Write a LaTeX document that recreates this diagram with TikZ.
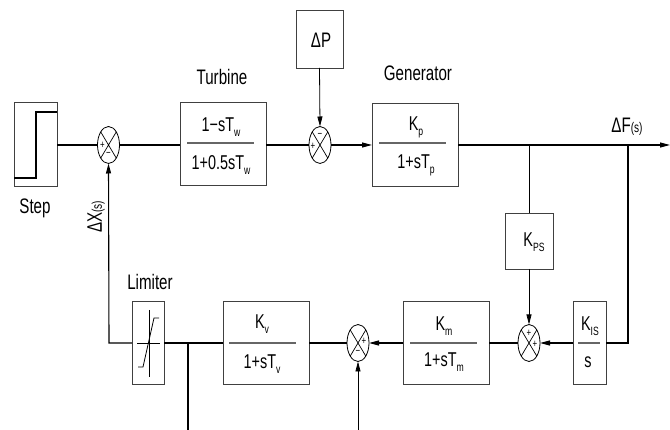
\documentclass[tikz,border=0pt]{standalone}
\usepackage{fontspec}
\setmainfont[FakeStretch=0.72]{Liberation Sans}
\usetikzlibrary{arrows.meta,shapes.geometric,calc}
\newcommand\sbs[1]{\raisebox{-0.45ex}{\fontsize{12}{12}\selectfont #1}}
\newcommand\pars[1]{{\fontsize{14}{14}\selectfont #1}}
\begin{document}
\begin{tikzpicture}[x=1pt,y=-1pt,
  blk/.style={draw=black!75, line width=0.9pt, rectangle, inner sep=0pt, outer sep=0pt},
  ln/.style={line width=1.1pt},
  arr/.style={line width=1.1pt,-{Triangle[length=10pt,width=5pt]}},
  sumj/.style={ellipse, draw, line width=0.8pt, minimum width=22pt, minimum height=37pt, inner sep=0pt, outer sep=0pt},
  lbl/.style={font=\fontsize{21}{23}\selectfont, inner sep=0pt},
  fr/.style={font=\fontsize{20}{22}\selectfont, inner sep=0pt},
  sg/.style={font=\fontsize{11}{11}\selectfont, inner sep=0pt},
  fline/.style={draw=black!60, line width=1.6pt}
]
\useasboundingbox (0,0) rectangle (670,430);

% ---- blocks ----
\node[blk, minimum width=43pt, minimum height=84pt] (step) at (35.5,144) {};
\draw[ln] (14,178) -- (36,178) -- (36,112) -- (57,112);
\node[lbl] (steplbl) at (35,208) {Step};

\node[sumj] (s1) at (108.5,145) {};
\node[blk, minimum width=86pt, minimum height=83pt] (turb) at (223,143.5) {};
\node[lbl] (turblbl) at (222,77) {Turbine};
\node[fr] (turbnum) at (221,127) {1−sT\sbs{w}};
\node[fr] (turbden) at (221,165) {1+0.5sT\sbs{w}};
\draw[fline] (187,143) -- (254,143);

\node[sumj] (s2) at (320,145) {};
\node[blk, minimum width=47pt, minimum height=58pt] (dp) at (319.5,39) {};
\node[lbl] (dptxt) at (321,40) {ΔP};

\node[blk, minimum width=86pt, minimum height=83pt] (gen) at (415,144.5) {};
\node[lbl] (genlbl) at (418,73) {Generator};
\node[fr] (gennum) at (416,127) {K\sbs{p}};
\node[fr] (genden) at (416,165) {1+sT\sbs{p}};
\draw[fline] (379,143) -- (446,143);

\node[lbl] (dflbl) at (627,127) {ΔF\pars{(s)}};

\node[blk, minimum width=48pt, minimum height=56pt] (kps) at (529,241) {};
\node[fr] (kpstxt) at (534,242) {K\sbs{PS}};

\node[sumj] (s3) at (529,343) {};
\node[blk, minimum width=33pt, minimum height=83pt] (kis) at (589.5,342.5) {};
\node[fr] (kisnum) at (590,326) {K\sbs{IS}};
\node[fr] (kisden) at (588,362) {s};
\draw[fline] (578,343) -- (600,343);

\node[blk, minimum width=86pt, minimum height=83pt] (km) at (446,342.5) {};
\node[fr] (kmnum) at (444,326) {K\sbs{m}};
\node[fr] (kmden) at (444,362) {1+sT\sbs{m}};
\draw[fline] (410,343) -- (477,343);

\node[sumj] (s4) at (358,343) {};

\node[blk, minimum width=86pt, minimum height=83pt] (kv) at (266,342.5) {};
\node[fr] (kvnum) at (262,324) {K\sbs{v}};
\node[fr] (kvden) at (262,364) {1+sT\sbs{v}};
\draw[fline] (229,343) -- (296,343);

\node[blk, minimum width=32pt, minimum height=83pt] (lim) at (148,342.5) {};
\node[lbl] (limlbl) at (150,282) {Limiter};
\draw[line width=0.8pt] (149,310) -- (149,377);
\draw[line width=0.8pt] (137,343) -- (160,343);
\draw[line width=0.8pt] (138,367) -- (143,367) -- (154,318) -- (159,318);

\node[lbl, rotate=90] (dxlbl) at (96,217) {ΔX\pars{(s)}};

% ---- summing junction crosses and signs ----
\foreach \s in {s1,s2,s3,s4}{
  \draw[line width=0.7pt] (\s.north west) -- (\s.south east) (\s.north east) -- (\s.south west);
}
\node[sg] (s1a) at ($(s1)+(-6,0)$) {+};
\node[sg] (s1b) at ($(s1)+(0,9)$) {−};
\node[sg] (s2a) at ($(s2)+(-7,1)$) {+};
\node[sg] (s2b) at ($(s2)+(0,-10)$) {−};
\node[sg] (s3a) at ($(s3)+(0,-10)$) {+};
\node[sg] (s3b) at ($(s3)+(6,1)$) {+};
\node[sg] (s4a) at ($(s4)+(6,-2)$) {+};
\node[sg] (s4b) at ($(s4)+(0,9)$) {−};

% ---- coordinates ----
\coordinate (b1) at (529,145);
\coordinate (b2) at (628,145);
\coordinate (c2) at (628,343);
\coordinate (out) at (670,145);
\coordinate (c1) at (109,343);
\coordinate (b3) at (188,343);
\coordinate (bot1) at (188,430);
\coordinate (bot2) at (358,430);

% ---- connectors ----
\draw[ln] (step.east |- s1) -- (s1.west);
\draw[ln] (s1.east) -- (turb.west |- s1);
\draw[ln] (turb.east |- s2) -- (s2.west);
\draw[arr,line width=0.8pt] (dp.south) -- (s2.north);
\draw[arr] (s2.east) -- (gen.west |- s2);
\draw[arr] (gen.east |- out) -- (out);
\draw[line width=0.8pt] (b1) -- (kps.north);
\draw[arr,line width=0.8pt] (kps.south) -- (s3.north);
\draw[ln] (b2) -- (c2) -- (kis.east |- c2);
\draw[arr] (kis.west |- s3) -- (s3.east);
\draw[ln] (s3.west) -- (km.east |- s3);
\draw[arr] (km.west |- s4) -- (s4.east);
\draw[arr,line width=0.8pt] (bot2) -- (s4.south);
\draw[ln] (s4.west) -- (kv.east |- s4);
\draw[ln] (kv.west |- b3) -- (lim.east |- b3);
\draw[ln] (b3) -- (bot1);
\draw[arr] (lim.west |- c1) -- (c1) -- (s1.south);
\end{tikzpicture}
\end{document}
